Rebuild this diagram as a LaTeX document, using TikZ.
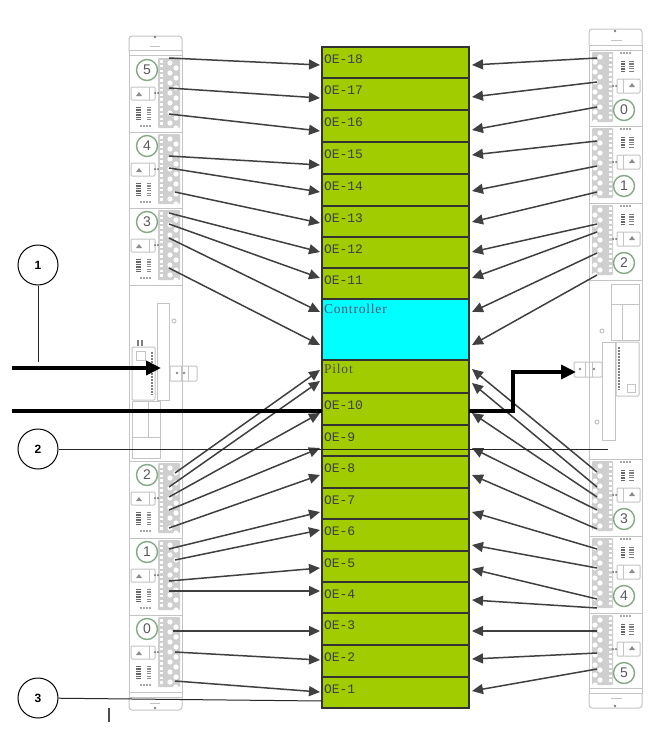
\documentclass[tikz,border=0pt]{standalone}
\usepackage{fontspec}
\setmainfont{Liberation Sans}
\newfontfamily\oefont{Liberation Mono}
\newfontfamily\ctlfont[LetterSpace=6]{Liberation Serif}
\usetikzlibrary{arrows.meta,calc}
\definecolor{oegreen}{HTML}{A0CC00}
\definecolor{oecyan}{HTML}{00FFFF}
\definecolor{pan}{HTML}{C4C4C4}
\definecolor{portg}{HTML}{CFCFCF}
\definecolor{ringg}{HTML}{86A886}
\definecolor{ctltext}{HTML}{55557A}
\tikzset{
  panelline/.style={draw=pan,line width=1pt},
  oebox/.style={draw=black!80,line width=1.4pt,fill=oegreen,anchor=north west,minimum width=147pt,
     text width=143pt,inner xsep=2pt,inner ysep=0pt,align=left,outer sep=0pt,
     font=\oefont\fontsize{13}{13}\selectfont,text=black!75},
  ctlbox/.style={oebox,fill=oecyan,font=\ctlfont\fontsize{13.5}{13.5}\selectfont,text=ctltext},
  pilotbox/.style={oebox,font=\ctlfont\fontsize{13.5}{13.5}\selectfont,text=black!70},
  link/.style={draw=black!75,line width=1.5pt,-{Triangle[length=11pt,width=10pt]}},
  heavy/.style={draw=black,line width=4pt},
  callout/.style={circle,draw=black,fill=white,line width=1pt,minimum size=40pt,inner sep=0pt,font=\bfseries\fontsize{12}{12}\selectfont},
  leader/.style={draw=black!85,line width=1pt},
  unitnum/.style={circle,draw=ringg,line width=1.4pt,fill=white,minimum size=21pt,inner sep=0pt,text=black!65,font=\fontsize{14}{14}\selectfont},
}
\newcommand{\portsL}[1]{%
  \fill[portg,rounded corners=1pt] (158,#1) rectangle (180,#1+70);
  \foreach \k in {0,...,6}{
    \fill[white] (170,#1+5+\k*10) circle (2.6pt);
    \fill[white] (176,#1+10+\k*10) circle (2.6pt);
  }
  \foreach \k in {0,...,13}{\fill[white] (159.5,#1+2+\k*4.8) rectangle (162.5,#1+4.6+\k*4.8);}
}
\newcommand{\portsR}[1]{%
  \fill[portg,rounded corners=1pt] (592,#1) rectangle (613,#1+70);
  \foreach \k in {0,...,6}{
    \fill[white] (600,#1+5+\k*10) circle (2.6pt);
    \fill[white] (595,#1+10+\k*10) circle (2.6pt);
  }
  \foreach \k in {0,...,13}{\fill[white] (608.5,#1+2+\k*4.8) rectangle (611.5,#1+4.6+\k*4.8);}
}
\newcommand{\unitL}[3]{% name, top, digit
  \portsL{#2+1}
  \draw[panelline,rounded corners=1pt] (131,#2+30) rectangle (155,#2+43);
  \draw[panelline] (149,#2+30) -- (149,#2+43);
  \fill[black!45] (139,#2+35) -- (142,#2+39) -- (136,#2+39) -- cycle;
  \fill[black!60] (155,#2+36) circle (1pt) (158,#2+36) circle (1pt);
  \draw[black!60,line width=5pt,dash pattern=on 1.4pt off 1pt] (138.5,#2+50) -- (138.5,#2+64);
  \draw[black!45,line width=4pt,dash pattern=on 1.2pt off 1.2pt] (149,#2+50) -- (149,#2+64);
  \draw[black!35,line width=1.5pt,dash pattern=on 2pt off 1pt] (140,#2+69) -- (152,#2+69);
  \node[unitnum] (#1) at (147,#2+13) {#3};
}
\newcommand{\unitR}[3]{%
  \portsR{#2+2}
  \draw[panelline,rounded corners=1pt] (617,#2+29) rectangle (640,#2+43);
  \draw[panelline] (623,#2+29) -- (623,#2+43);
  \fill[black!45] (632,#2+33) -- (635,#2+37) -- (629,#2+37) -- cycle;
  \fill[black!60] (613,#2+36) circle (1pt) (616,#2+36) circle (1pt);
  \draw[black!60,line width=4pt,dash pattern=on 1.4pt off 1pt] (623,#2+11) -- (623,#2+22);
  \draw[black!50,line width=5pt,dash pattern=on 1.2pt off 1.2pt] (631,#2+11) -- (631,#2+22);
  \draw[black!35,line width=1.5pt,dash pattern=on 2pt off 1pt] (620,#2+3) -- (632,#2+3);
  \node[unitnum] (#1) at (624,#2+60) {#3};
}
\begin{document}
\begin{tikzpicture}[x=1pt,y=-1pt]
\useasboundingbox (0,0) rectangle (670,736);
\fill[white] (0,0) rectangle (670,736);

% left chassis
\draw[panelline,rounded corners=3pt] (129,52) -- (129,36) -- (182,36) -- (182,52);
\draw[panelline] (129,50) rectangle (182,697);
\draw[panelline,rounded corners=3pt] (129,697) -- (129,710) -- (182,710) -- (182,697);
\foreach \y in {55,132,208,285,461,538,615,692}{\draw[panelline] (129,\y) -- (182,\y);}
\draw[panelline] (150,46) -- (160,46) (150,703) -- (160,703);
\fill[black!50] (155,37) circle (1.3pt) (155,708) circle (1.3pt);
\unitL{la}{57}{5}
\unitL{lb}{133}{4}
\unitL{lc}{209}{3}
\unitL{ld}{462}{2}
\unitL{le}{539}{1}
\unitL{lf}{616}{0}
% left controller
\draw[panelline] (157,303) rectangle (169,400);
\draw[panelline,rounded corners=1pt] (132,347) rectangle (155,400);
\draw[black!50,line width=2pt,dash pattern=on 2pt off 1pt] (152,352) -- (152,395);
\draw[panelline] (136,351) rectangle (145,360);
\draw[panelline] (132,401) rectangle (160,458);
\draw[panelline] (148,401) -- (148,437) (132,437) -- (160,437);
\draw[panelline,rounded corners=1pt] (170,366) rectangle (197,381);
\draw[panelline] (181,366) -- (181,381) (188,366) -- (188,381);
\fill[black!45] (177,373) circle (1.3pt) (184,373) circle (1.3pt);
\draw[panelline] (174,321) circle (2pt);
\draw[black!50,line width=1.2pt] (138,340) -- (138,346) (142,340) -- (142,346);

% right chassis
\draw[panelline,rounded corners=3pt] (589,45) -- (589,29) -- (642,29) -- (642,45);
\draw[panelline] (589,45) rectangle (642,693);
\draw[panelline,rounded corners=3pt] (589,693) -- (589,708) -- (642,708) -- (642,693);
\foreach \y in {50,126,203,280,459,536,613,688}{\draw[panelline] (589,\y) -- (642,\y);}
\draw[panelline] (611,40) -- (622,40) (611,698) -- (622,698);
\fill[black!50] (615,31) circle (1.3pt) (615,706) circle (1.3pt);
\unitR{ra}{50}{0}
\unitR{rb}{126}{1}
\unitR{rc}{203}{2}
\unitR{rd}{459}{3}
\unitR{re}{536}{4}
\unitR{rf}{613}{5}
% right controller
\draw[panelline] (611,284) rectangle (639,340);
\draw[panelline] (622,304) -- (622,340) (611,304) -- (639,304);
\draw[panelline] (602,342) rectangle (615,440);
\draw[panelline,rounded corners=1pt] (616,342) rectangle (639,396);
\draw[black!50,line width=2pt,dash pattern=on 2pt off 1pt] (619,347) -- (619,390);
\draw[panelline] (627,384) rectangle (635,392);
\draw[panelline,rounded corners=1pt] (574,362) rectangle (602,377);
\draw[panelline] (585,362) -- (585,377) (592,362) -- (592,377);
\fill[black!45] (580,369) circle (1.3pt) (594,369) circle (1.3pt);
\draw[panelline] (602,331) circle (2pt) (597,422) circle (2pt);

% stack of modules
\foreach \n/\t/\b/\lab in {
  oe18/47/78/OE-18,oe17/78/110/OE-17,oe16/110/142/OE-16,oe15/142/174/OE-15,
  oe14/174/206/OE-14,oe13/206/237/OE-13,oe12/237/268/OE-12,oe11/268/299/OE-11,
  oe10/393/425/OE-10,oe9/425/456/OE-9,oe8/456/488/OE-8,oe7/488/519/OE-7,
  oe6/519/551/OE-6,oe5/551/582/OE-5,oe4/582/613/OE-4,oe3/613/645/OE-3,
  oe2/645/677/OE-2,oe1/677/708/OE-1}{
  \pgfmathsetmacro{\dep}{\b-\t-16}
  \node[oebox,text height=16pt,text depth=\dep pt] (\n) at (322,\t) {\lab};
}
\node[ctlbox,text height=14pt,text depth=47pt] (ctl) at (322,299) {Controller};
\node[pilotbox,text height=13pt,text depth=20pt] (pil) at (322,360) {Pilot};

% connectors, left side
\foreach \i/\x/\y/\b/\e in {
 1/169/58/oe18/65, 2/169/88/oe17/98, 3/169/114/oe16/131, 4/169/156/oe15/165,
 5/169/168/oe14/192, 6/175/192/oe13/223, 7/169/213/oe12/252, 8/169/224/oe11/278,
 9/169/238/ctl/312, 10/169/268/ctl/345, 11/175/473/pil/370, 12/169/487/pil/381,
 13/169/497/oe10/413, 14/169/510/oe9/448, 15/169/528/oe8/475, 16/169/549/oe7/512,
 17/175/560/oe6/530, 18/169/581/oe5/568, 19/169/591/oe4/591, 20/173/631/oe3/631,
 21/175/652/oe2/660, 22/175/681/oe1/692}{
  \coordinate (ls\i) at (\x,\y);
  \coordinate (le\i) at ([xshift=-2pt]\b.west |- 0,\e);
  \draw[link] (ls\i) -- (le\i);
}
% connectors, right side
\foreach \i/\y/\b/\e in {
 1/58/oe18/65, 2/82/oe17/97, 3/107/oe16/130, 4/141/oe15/155, 5/166/oe14/191,
 6/192/oe13/222, 7/224/oe12/252, 8/232/oe11/278, 9/253/ctl/312, 10/275/ctl/345,
 11/472/pil/369, 12/487/pil/383, 13/497/oe10/413, 14/510/oe9/448, 15/529/oe8/475,
 16/549/oe7/512, 17/568/oe6/545, 18/599/oe5/569, 19/608/oe4/600, 20/631/oe3/631,
 21/653/oe2/659, 22/669/oe1/691}{
  \coordinate (rs\i) at (597,\y);
  \coordinate (re\i) at ([xshift=3pt]\b.east |- 0,\e);
  \draw[link] (rs\i) -- (re\i);
}

% callouts
\node[callout] (c1) at (38,265) {1};
\node[callout] (c2) at (38,449) {2};
\node[callout] (c3) at (38,698) {3};
\coordinate (c1e) at (38,362);
\draw[leader] (c1) -- (c1e);
\coordinate (c2e) at (608,449);
\draw[leader] (c2) -- (c2e);
\coordinate (c3e) at (322,701);
\draw[leader] (c3) -- (c3e);

% heavy feeds
\coordinate (h1s) at (12,368);
\coordinate (h1e) at (161,368);
\draw[heavy,-{Triangle[length=15pt,width=14pt]}] (h1s) -- (h1e);
\coordinate (h2s) at (12,411);
\draw[heavy] (h2s) -- (oe10.west |- 0,411);
\coordinate (h3e) at (576,372);
\draw[heavy,-{Triangle[length=15pt,width=14pt]}] (oe10.east |- 0,411) -- (513,411) -- (513,372) -- (h3e);
\draw[black!70,line width=2pt] (109,708) -- (109,722);
\end{tikzpicture}
\end{document}
